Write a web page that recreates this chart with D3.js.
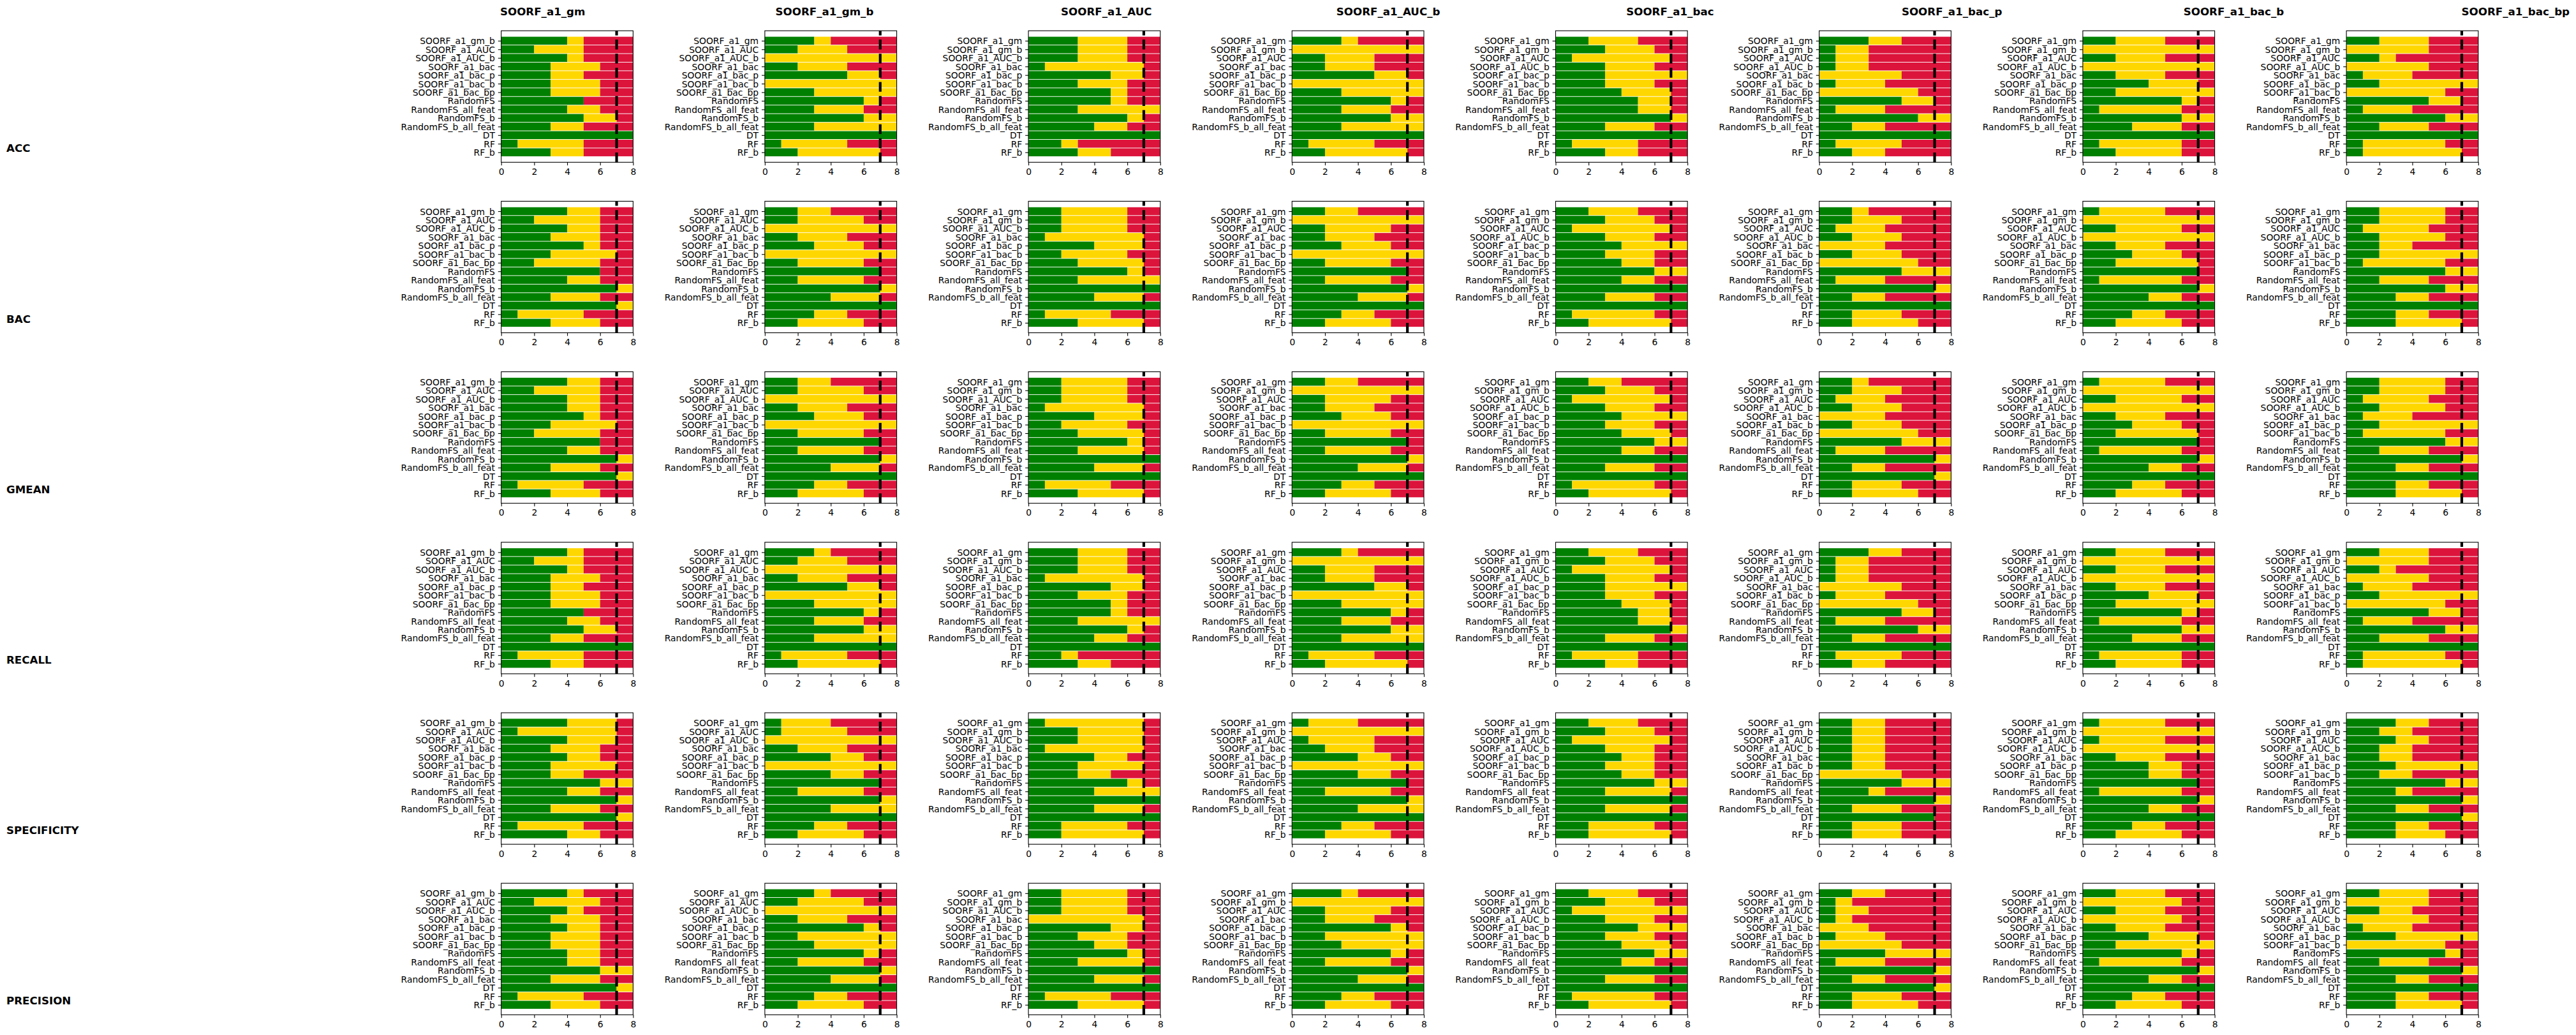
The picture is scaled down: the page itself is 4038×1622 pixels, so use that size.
<!DOCTYPE html>
<html>
<head>
<meta charset="utf-8">
<script src="https://cdn.jsdelivr.net/npm/d3@7"></script>
<style>
    body { margin: 0; background: #fff; }
    text { font-family: "DejaVu Sans", sans-serif; }
</style>
</head>
<body>
<svg id="chart" width="4038" height="1622"></svg>
<script>
'use strict';

// all compared methods, in the order used on the y axes
const methods = ["SOORF_a1_gm", "SOORF_a1_gm_b", "SOORF_a1_AUC", "SOORF_a1_AUC_b",
    "SOORF_a1_bac", "SOORF_a1_bac_p", "SOORF_a1_bac_b", "SOORF_a1_bac_bp",
    "RandomFS", "RandomFS_all_feat", "RandomFS_b", "RandomFS_b_all_feat", "DT", "RF", "RF_b"];
// one column per reference method
const columns = methods.slice(0, 8);
const metrics = ["ACC", "BAC", "GMEAN", "RECALL", "SPECIFICITY", "PRECISION"];
const xTicks = [0, 2, 4, 6, 8];
const nDatasets = 8;
const threshold = 7;

// per column, per compared method: [wins, wins + ties]  (losses fill the rest up to 8)
const accCounts = [
    [[4,5],[2,5],[4,5],[3,6],[3,5],[3,6],[3,6],[5,5],[4,6],[5,7],[3,5],[8,8],[1,5],[3,5]],
    [[3,4],[2,5],[0,8],[2,5],[5,7],[0,8],[3,8],[6,7],[3,6],[6,8],[3,8],[8,8],[1,5],[2,7]],
    [[3,6],[3,6],[3,6],[1,7],[5,7],[3,6],[5,6],[5,6],[3,8],[6,7],[4,6],[8,8],[2,3],[3,5]],
    [[3,4],[0,8],[2,5],[2,5],[5,7],[0,8],[3,8],[6,7],[3,6],[6,8],[3,8],[8,8],[1,5],[2,7]],
    [[2,5],[3,6],[1,7],[3,6],[3,8],[3,6],[4,7],[5,7],[5,7],[7,8],[3,6],[8,8],[1,5],[3,5]],
    [[3,5],[1,3],[1,3],[1,3],[0,5],[1,4],[0,6],[5,7],[1,4],[6,8],[2,4],[8,8],[1,5],[2,4]],
    [[2,5],[0,8],[2,5],[0,8],[2,5],[4,7],[2,8],[6,7],[1,6],[6,8],[3,6],[8,8],[1,6],[2,6]],
    [[2,5],[0,5],[2,3],[0,5],[1,4],[2,8],[0,6],[5,7],[1,4],[6,8],[2,5],[8,8],[1,6],[1,7]]
];
const bacCounts = [
    [[4,6],[2,6],[4,6],[3,6],[5,6],[3,7],[2,6],[6,6],[4,6],[7,8],[3,6],[7,8],[1,5],[3,6]],
    [[2,4],[2,6],[0,8],[2,5],[3,6],[0,8],[2,6],[7,7],[2,6],[7,8],[4,7],[8,8],[3,5],[2,6]],
    [[2,6],[2,6],[2,6],[1,7],[4,7],[2,6],[3,7],[6,7],[3,8],[8,8],[4,7],[8,8],[1,5],[3,7]],
    [[2,4],[0,8],[2,6],[2,5],[3,6],[0,8],[2,6],[7,7],[2,6],[7,8],[4,7],[8,8],[3,5],[2,6]],
    [[2,5],[3,6],[1,7],[3,6],[4,8],[3,6],[4,6],[6,8],[4,6],[8,8],[3,6],[8,8],[1,6],[2,7]],
    [[2,3],[2,5],[1,4],[2,5],[0,4],[2,5],[0,6],[5,8],[1,4],[7,8],[2,4],[8,8],[2,5],[2,6]],
    [[1,5],[0,8],[2,6],[0,8],[2,5],[3,6],[2,7],[7,7],[1,6],[7,8],[4,6],[8,8],[3,5],[2,6]],
    [[2,6],[2,6],[1,5],[2,6],[2,4],[2,8],[1,6],[6,8],[2,5],[6,8],[3,5],[8,8],[3,5],[3,7]]
];
const gmeanCounts = [
    [[4,6],[2,6],[4,6],[4,6],[5,6],[3,7],[2,6],[6,6],[4,6],[7,8],[3,6],[7,8],[1,5],[3,6]],
    [[2,4],[2,6],[0,8],[2,5],[3,6],[0,8],[2,6],[7,7],[2,6],[7,8],[4,7],[8,8],[3,5],[2,6]],
    [[2,6],[2,6],[2,6],[1,7],[4,7],[2,6],[3,7],[6,7],[3,7],[8,8],[4,7],[8,8],[1,5],[3,7]],
    [[2,4],[0,8],[2,6],[2,5],[3,6],[0,8],[2,6],[7,7],[2,6],[7,8],[4,7],[8,8],[3,5],[2,6]],
    [[2,4],[3,6],[1,7],[3,6],[4,8],[3,6],[4,7],[6,8],[4,6],[8,8],[3,6],[8,8],[1,6],[2,7]],
    [[2,3],[2,5],[1,4],[2,5],[0,4],[2,5],[0,6],[5,8],[1,4],[7,8],[2,4],[7,8],[2,5],[2,6]],
    [[1,5],[0,8],[2,6],[0,8],[2,5],[3,6],[2,7],[7,7],[1,6],[7,8],[4,6],[8,8],[3,5],[2,6]],
    [[2,6],[2,6],[1,5],[2,6],[1,4],[2,8],[1,6],[6,8],[2,5],[7,8],[3,5],[8,8],[3,5],[3,7]]
];
const recallCounts = [
    [[4,5],[2,5],[4,5],[3,6],[3,5],[3,6],[3,6],[5,5],[4,6],[5,7],[3,5],[8,8],[1,5],[3,5]],
    [[3,4],[2,5],[0,8],[2,5],[5,7],[0,8],[3,8],[6,7],[3,6],[6,8],[3,8],[8,8],[1,5],[2,7]],
    [[3,6],[3,6],[3,6],[1,7],[5,7],[3,6],[5,6],[5,6],[3,8],[6,7],[4,6],[8,8],[2,3],[3,5]],
    [[3,4],[0,8],[2,5],[2,5],[5,7],[0,8],[3,8],[6,7],[3,6],[6,8],[3,8],[8,8],[1,5],[2,7]],
    [[2,5],[3,6],[1,7],[3,6],[3,8],[3,6],[4,7],[5,7],[5,7],[7,8],[3,6],[8,8],[1,5],[3,5]],
    [[3,5],[1,3],[1,3],[1,3],[0,5],[1,4],[0,6],[5,7],[1,4],[6,8],[2,4],[8,8],[1,5],[2,4]],
    [[2,5],[0,8],[2,5],[0,8],[2,5],[4,7],[2,8],[6,7],[1,6],[6,8],[3,6],[8,8],[1,6],[2,6]],
    [[2,5],[0,5],[2,3],[0,5],[1,4],[2,8],[0,6],[5,7],[1,4],[6,8],[2,5],[8,8],[1,6],[1,7]]
];
const specCounts = [
    [[4,7],[1,7],[4,7],[3,6],[4,6],[3,7],[3,5],[6,8],[4,6],[7,8],[3,6],[7,8],[1,5],[4,6]],
    [[1,4],[1,5],[0,8],[2,5],[4,6],[0,8],[4,6],[7,7],[2,6],[7,8],[4,8],[8,8],[3,5],[2,6]],
    [[1,7],[3,7],[3,7],[1,7],[4,6],[3,7],[3,5],[6,7],[4,8],[8,8],[4,7],[8,8],[2,6],[2,7]],
    [[1,4],[0,8],[1,5],[2,5],[4,6],[0,8],[4,6],[7,7],[2,6],[7,8],[4,8],[8,8],[3,5],[2,6]],
    [[2,5],[3,6],[1,7],[3,6],[4,6],[3,6],[4,6],[6,8],[3,7],[8,8],[3,7],[8,8],[2,6],[2,7]],
    [[2,4],[2,4],[2,4],[2,4],[2,4],[2,4],[0,5],[5,8],[3,4],[7,8],[2,5],[7,7],[2,5],[2,5]],
    [[1,5],[0,8],[1,5],[0,8],[2,5],[4,6],[4,6],[7,7],[1,6],[7,8],[4,6],[8,8],[3,5],[2,6]],
    [[3,5],[2,4],[3,5],[2,4],[2,4],[3,8],[2,4],[6,8],[3,4],[7,8],[3,5],[7,8],[3,5],[3,6]]
];
const precCounts = [
    [[4,5],[2,6],[4,5],[3,6],[4,6],[3,6],[3,6],[4,6],[4,6],[6,8],[3,6],[7,8],[1,5],[3,6]],
    [[3,4],[2,6],[0,8],[2,5],[6,7],[2,8],[3,8],[6,7],[2,6],[7,8],[4,7],[8,8],[3,5],[2,6]],
    [[2,6],[2,6],[2,6],[0,7],[5,7],[3,6],[4,6],[6,7],[3,7],[8,8],[4,7],[8,8],[1,5],[3,7]],
    [[3,4],[0,8],[2,6],[2,5],[6,7],[2,8],[3,8],[6,7],[2,6],[7,8],[4,7],[8,8],[3,5],[2,6]],
    [[2,5],[3,6],[1,8],[3,6],[5,8],[3,6],[4,7],[6,8],[4,6],[8,8],[3,6],[8,8],[1,6],[2,7]],
    [[2,4],[1,2],[1,3],[1,2],[0,3],[1,4],[0,5],[4,8],[1,4],[7,8],[2,4],[7,8],[2,5],[2,6]],
    [[2,5],[0,6],[2,5],[0,6],[2,5],[4,7],[2,8],[6,7],[1,6],[7,8],[4,6],[8,8],[3,5],[2,6]],
    [[2,5],[0,5],[2,4],[0,5],[1,4],[3,8],[0,6],[6,7],[2,5],[7,8],[3,5],[8,8],[3,5],[3,7]]
];
const countsByMetric = [accCounts, bacCounts, gmeanCounts, recallCounts, specCounts, precCounts];

const colors = {win: "green", tie: "gold", loss: "crimson"};

let svg = d3.select("#chart"),
    layout = {
        left: 785.7, colStep: 413.2, width: 206.7,
        top: 48.2, rowStep: 267.2, height: 206.1,
        titleX: 850.7, titleStep: 441.8
    },
    barH = 0.93,
    tick = 4.9;

let x = d3.scaleLinear().domain([0, nDatasets]).range([0, layout.width]);
let nBars = methods.length - 1;
let pad = 0.05 * (nBars - 1 + barH);
let y = d3.scaleLinear()
    .domain([-barH / 2 - pad, nBars - 1 + barH / 2 + pad])
    .range([0, layout.height]);

// column titles
svg.selectAll("text.colTitle")
    .data(columns)
    .enter().append("text")
    .attr("class", "colTitle")
    .attr("x", (d, i) => layout.titleX + i * layout.titleStep)
    .attr("y", 23.6)
    .attr("text-anchor", "middle")
    .style("font-size", "16.7px")
    .style("font-weight", "bold")
    .text(d => d);

// row labels
svg.selectAll("text.rowTitle")
    .data(metrics)
    .enter().append("text")
    .attr("class", "rowTitle")
    .attr("x", 10)
    .attr("y", (d, i) => 238.4 + i * layout.rowStep)
    .style("font-size", "16.7px")
    .style("font-weight", "bold")
    .text(d => d);

metrics.forEach((metric, r) => {
    columns.forEach((col, c) => {
        let labels = methods.filter(m => m !== col);
        let rows = countsByMetric[r][c].map((d, i) => ({
            name: labels[i], i: i,
            segs: [
                {x0: 0, x1: d[0], color: colors.win},
                {x0: d[0], x1: d[1], color: colors.tie},
                {x0: d[1], x1: nDatasets, color: colors.loss}
            ].filter(s => s.x1 > s.x0)
        }));

        let g = svg.append("g")
            .attr("transform", "translate(" + (layout.left + c * layout.colStep) + "," + (layout.top + r * layout.rowStep) + ")");

        g.selectAll("g.bar")
            .data(rows)
            .enter().append("g")
            .attr("class", "bar")
            .selectAll("rect")
            .data(d => d.segs.map(s => Object.assign({i: d.i}, s)))
            .enter().append("rect")
            .attr("x", d => x(d.x0))
            .attr("width", d => x(d.x1) - x(d.x0))
            .attr("y", d => y(d.i - barH / 2))
            .attr("height", d => y(barH) - y(0))
            .attr("fill", d => d.color);

        // threshold line, dashes start at the bottom like matplotlib axvline
        g.append("line")
            .attr("x1", x(threshold)).attr("x2", x(threshold))
            .attr("y1", layout.height).attr("y2", 0)
            .attr("stroke", "black")
            .attr("stroke-width", 4.17)
            .attr("stroke-dasharray", "15.4,6.7");

        let yAxis = g.append("g")
            .call(d3.axisLeft(y)
                .tickValues(d3.range(nBars))
                .tickFormat(i => labels[i])
                .tickSize(tick)
                .tickPadding(tick));
        let xAxis = g.append("g")
            .attr("transform", "translate(0," + layout.height + ")")
            .call(d3.axisBottom(x)
                .tickValues(xTicks)
                .tickSize(tick)
                .tickPadding(tick));
        [yAxis, xAxis].forEach(a => {
            a.select(".domain").remove();
            a.selectAll("line").attr("stroke", "#000").attr("stroke-width", 1.1);
            a.selectAll("text")
                .attr("fill", "#000")
                .style("font-size", "13.9px")
                .style("font-family", "'DejaVu Sans', sans-serif");
        });
        yAxis.selectAll("text").attr("dy", "0.36em");

        g.append("rect")
            .attr("width", layout.width)
            .attr("height", layout.height)
            .attr("fill", "none")
            .attr("stroke", "#000")
            .attr("stroke-width", 1.1);
    });
});
</script>
</body>
</html>
